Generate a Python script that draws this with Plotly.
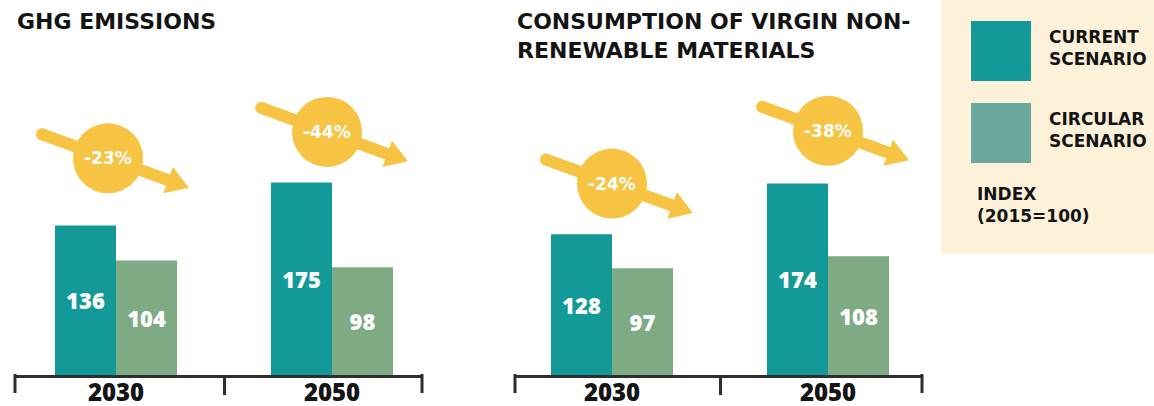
import math
import plotly.graph_objects as go

# ---- data -------------------------------------------------------------
years = ["2030", "2050"]
series_names = ["CURRENT<br>SCENARIO", "CIRCULAR<br>SCENARIO"]
ghg_current = [136, 175]
ghg_circular = [104, 98]
ghg_change = [-23, -44]
mat_current = [128, 174]
mat_circular = [97, 108]
mat_change = [-24, -38]
panel_titles = ["GHG EMISSIONS", "CONSUMPTION OF VIRGIN NON-<br>RENEWABLE MATERIALS"]
index_note = "INDEX<br>(2015=100)"

# ---- style ------------------------------------------------------------
W, H = 1154, 406
TEAL = "#139a98"
GREEN = "#7eaa84"
SWATCH_GREEN = "#6ba89f"
YELLOW = "#f6c342"
BEIGE = "#fdf1da"
INK = "#141414"
AXIS = "#2e2e2e"
WIDE = "DejaVu Sans"
NUM = "Open Sans"

BASE = 375           # pixel row of the zero line
PX_PER_UNIT = 1.1    # vertical scale of the bars
Y_MAX = BASE / PX_PER_UNIT
CAT_PX = 216         # pixel distance between category centres


def fx(p):
    return p / W


def fy(p):
    return 1 - p / H


panels = [
    dict(xa="x", ya="y", left=15, right=422, first_centre=116, title_x=15,
         current=ghg_current, circular=ghg_circular, change=ghg_change,
         badge_dx=[-0.037, -0.023], badge_lift=[61, 46]),
    dict(xa="x2", ya="y2", left=515, right=922, first_centre=612, title_x=515,
         current=mat_current, circular=mat_circular, change=mat_change,
         badge_dx=[0.0, 0.0], badge_lift=[46, 48]),
]

fig = go.Figure()
shapes = []
annotations = []

# arrow outline in local coordinates (s along the arrow, t across it)
THETA = math.radians(20)
u = (math.cos(THETA), -math.sin(THETA))
n = (math.sin(THETA), math.cos(THETA))


def local(s, t):
    return (s * u[0] + t * n[0], s * u[1] + t * n[1])


def arrow_path():
    s0, s1, tip = -70, 64, 86
    hw, hh = 6, 14
    p = lambda s, t: "{:.2f},{:.2f}".format(*local(s, t))
    return (f"M{p(s0, hw)} L{p(s1, hw)} L{p(s1, hh)} L{p(tip, 0)} "
            f"L{p(s1, -hh)} L{p(s1, -hw)} L{p(s0, -hw)} "
            f"C{p(s0 - 8, -hw)} {p(s0 - 8, hw)} {p(s0, hw)} Z")


ARROW = arrow_path()

axis_common = dict(
    type="category", showline=True, linewidth=3, automargin=False,
    linecolor=AXIS, ticks="outside", tickson="boundaries", ticklen=17,
    tickwidth=3, tickcolor=AXIS, showgrid=False, zeroline=False,
    ticklabelstandoff=-6,
    tickfont=dict(family=NUM, size=24, color=INK, weight=800),
)
yaxis_common = dict(range=[0, Y_MAX], visible=False, showgrid=False,
                    zeroline=False, automargin=False, domain=[fy(BASE), 1])
axes = {}

for k, pn in enumerate(panels):
    for vals, color, name in [(pn["current"], TEAL, series_names[0]),
                              (pn["circular"], GREEN, series_names[1])]:
        fig.add_trace(go.Bar(
            x=years, y=vals, name=name.replace("<br>", " "),
            marker=dict(color=color, line=dict(width=0)),
            texttemplate="%{y}", textposition="inside",
            insidetextanchor="middle", textangle=0,
            textfont=dict(family=NUM, size=22, color="white", weight=800),
            xaxis=pn["xa"], yaxis=pn["ya"], showlegend=False,
            hoverinfo="skip", cliponaxis=False,
        ))

    # category axis: centres CAT_PX apart, slightly off-centre in the frame
    lo = -(pn["first_centre"] - pn["left"]) / CAT_PX
    hi = lo + (pn["right"] - pn["left"]) / CAT_PX
    key = "xaxis" if k == 0 else f"xaxis{k + 1}"
    axes[key] = dict(axis_common, domain=[fx(pn["left"]), fx(pn["right"])],
                     range=[lo, hi], anchor=pn["ya"])
    axes["yaxis" if k == 0 else f"yaxis{k + 1}"] = dict(yaxis_common, anchor=pn["xa"])

    # end ticks of the axis bracket
    for edge in (pn["left"], pn["right"]):
        shapes.append(dict(type="line", xref="paper", yref="paper",
                           x0=fx(edge), x1=fx(edge), y0=fy(BASE - 1), y1=fy(BASE + 18),
                           line=dict(color=AXIS, width=3), layer="above"))

    # percentage-change badges
    for i in range(len(years)):
        cx = i + pn["badge_dx"][i]
        cy = pn["current"][i] + pn["badge_lift"][i]
        shapes.append(dict(
            type="path", xref=pn["xa"], yref=pn["ya"],
            xsizemode="pixel", ysizemode="pixel", xanchor=cx, yanchor=cy,
            path=ARROW, fillcolor=YELLOW, line=dict(width=0), layer="above"))
        shapes.append(dict(
            type="circle", xref=pn["xa"], yref=pn["ya"],
            xsizemode="pixel", ysizemode="pixel", xanchor=cx, yanchor=cy,
            x0=-35, x1=35, y0=-35, y1=35,
            fillcolor=YELLOW, line=dict(width=0), layer="above"))
        annotations.append(dict(
            x=cx, y=cy, xref=pn["xa"], yref=pn["ya"], showarrow=False,
            text=f"{pn['change'][i]}%", xanchor="center", yanchor="middle",
            font=dict(family=WIDE, size=17, color="white", weight=700)))

    annotations.append(dict(
        x=fx(pn["title_x"]), y=fy(7), xref="paper", yref="paper",
        xanchor="left", yanchor="top", align="left", showarrow=False,
        text=panel_titles[k],
        font=dict(family=WIDE, size=22, color=INK, weight=700)))

# legend panel
shapes.append(dict(type="rect", xref="paper", yref="paper",
                   x0=fx(941), x1=1, y0=fy(254), y1=1,
                   fillcolor=BEIGE, line=dict(width=0), layer="below"))
for j, (color, top) in enumerate([(TEAL, 21), (SWATCH_GREEN, 103)]):
    shapes.append(dict(type="rect", xref="paper", yref="paper",
                       x0=fx(971), x1=fx(1031), y0=fy(top + 60), y1=fy(top),
                       fillcolor=color, line=dict(width=0), layer="above"))
    annotations.append(dict(
        x=fx(1047), y=fy(top + 27), xref="paper", yref="paper",
        xanchor="left", yanchor="middle", align="left", showarrow=False,
        text=series_names[j],
        font=dict(family=WIDE, size=17, color=INK, weight=700)))
annotations.append(dict(
    x=fx(975), y=fy(205), xref="paper", yref="paper",
    xanchor="left", yanchor="middle", align="left", showarrow=False,
    text=index_note, font=dict(family=WIDE, size=17, color=INK, weight=700)))

fig.update_layout(
    width=W, height=H, margin=dict(l=0, r=0, t=0, b=0, autoexpand=False),
    paper_bgcolor="white", plot_bgcolor="rgba(0,0,0,0)",
    barmode="group", bargap=0.435, bargroupgap=0,
    shapes=shapes, annotations=annotations,
    font=dict(family=WIDE), hovermode=False,
    **axes,
)

fig.write_html("out.html")
